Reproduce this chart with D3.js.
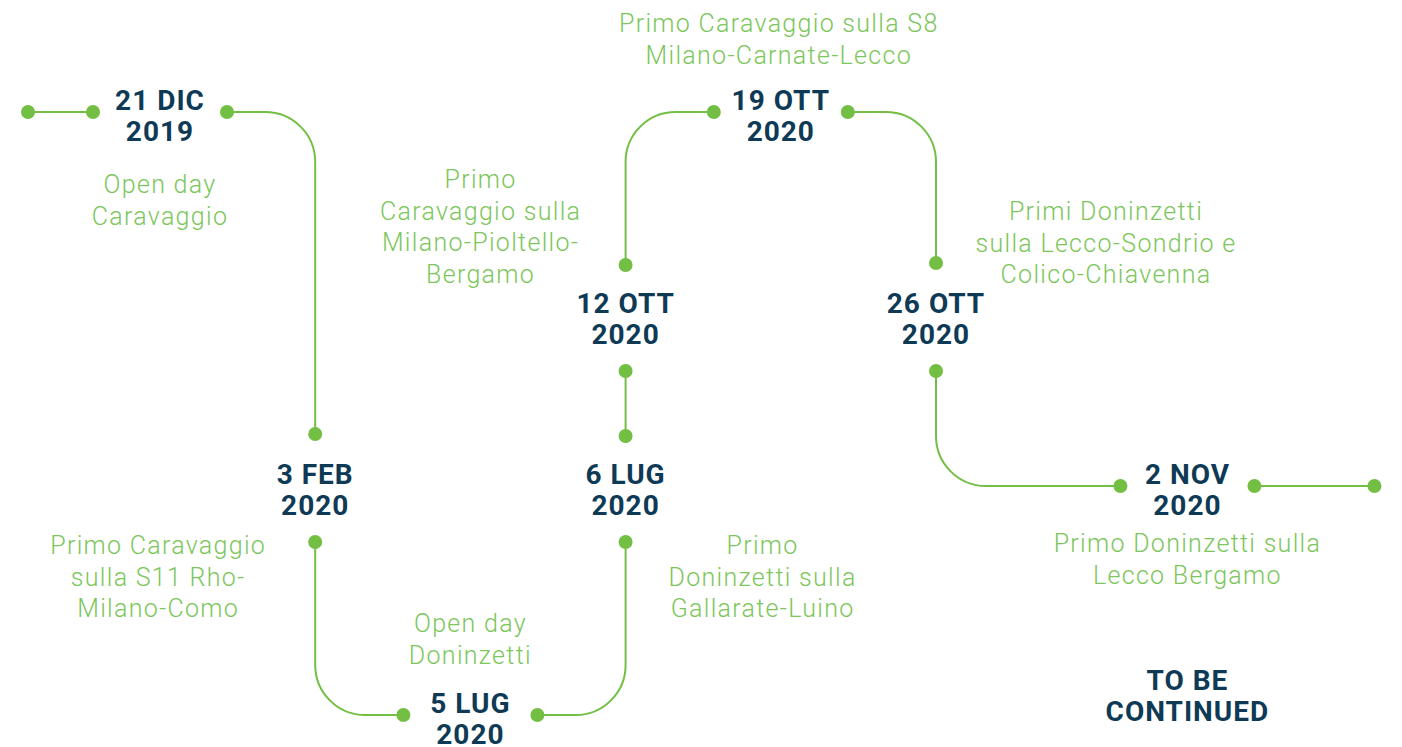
<!DOCTYPE html>
<html>
  <head>
    <meta charset="utf-8">
    <title>timeline</title>
    <script src="https://cdnjs.cloudflare.com/ajax/libs/d3/7.8.5/d3.min.js"></script>
    <style type="text/css">
      body { margin: 0; background: #fff; }
      .date { font-family: Roboto, "DejaVu Sans", sans-serif; font-weight: 700; fill: #0f3a56; letter-spacing: 1px; }
      .note { font-family: Roboto, "DejaVu Sans", sans-serif; font-weight: 300; fill: #7cc65b; letter-spacing: 1.3px; }
    </style>
  </head>
  <body>
    <script>
      // milestones, in order
      var days = ['21 DIC', '3 FEB', '5 LUG', '6 LUG', '12 OTT', '19 OTT', '26 OTT', '2 NOV'];
      var years = ['2019', '2020', '2020', '2020', '2020', '2020', '2020', '2020'];
      var notes = [
        ['Open day', 'Caravaggio'],
        ['Primo Caravaggio', 'sulla S11 Rho-', 'Milano-Como'],
        ['Open day', 'Doninzetti'],
        ['Primo', 'Doninzetti sulla', 'Gallarate-Luino'],
        ['Primo', 'Caravaggio sulla', 'Milano-Pioltello-', 'Bergamo'],
        ['Primo Caravaggio sulla S8', 'Milano-Carnate-Lecco'],
        ['Primi Doninzetti', 'sulla Lecco-Sondrio e', 'Colico-Chiavenna'],
        ['Primo Doninzetti sulla', 'Lecco Bergamo']
      ];
      var endLabel = ['TO BE', 'CONTINUED'];

      // where each milestone sits on the snake (grid slot + level) and which way the path runs
      var slot = [0, 1, 2, 3, 3, 4, 5, 6.62];
      var level = [0, 2, 3, 2, 1, 0, 1, 2];
      var flow = ['right', 'down', 'right', 'up', 'up', 'right', 'down', 'right'];
      // note placement relative to the milestone
      var noteDx = [0, -157, 0, 137, -145, -2, 170, 0];
      var noteDy = [78, 65, -86, 65, -130, -83, -98, 63];

      var w = 1402, h = 747;
      var green = '#72bf44';

      var x = d3.scaleLinear().domain([0, 5]).range([160, 936]);
      var y = d3.scaleOrdinal().domain([0, 1, 2, 3]).range([115, 318, 489, 718]);

      var events = days.map(function(d, i) {
        return { day: d, year: years[i], note: notes[i], cx: x(slot[i]), cy: y(level[i]), flow: flow[i], dx: noteDx[i], dy: noteDy[i] };
      });

      // entry / exit dots
      events.forEach(function(e) {
        if (e.flow == 'right') {
          var ly = e.cy - 3;
          e.entry = [e.cx - 67, ly];
          e.exit = [e.cx + 67, ly];
        } else if (e.flow == 'down') {
          e.entry = [e.cx, e.cy - 55];
          e.exit = [e.cx, e.cy + 53];
        } else {
          e.entry = [e.cx, e.cy + 53];
          e.exit = [e.cx, e.cy - 53];
        }
      });

      var svg = d3.select('body')
                  .append('svg')
                    .attr('width', w)
                    .attr('height', h);

      // connectors with rounded corners
      var r = 50;
      var connector = function(a, b, horizontalFirst) {
        var p = d3.path();
        p.moveTo(a[0], a[1]);
        if (a[0] == b[0] || a[1] == b[1]) {
          p.lineTo(b[0], b[1]);
        } else {
          var c = horizontalFirst ? [b[0], a[1]] : [a[0], b[1]];
          p.arcTo(c[0], c[1], b[0], b[1], r);
          p.lineTo(b[0], b[1]);
        }
        return p.toString();
      };

      var links = [];
      var first = events[0], last = events[events.length - 1];
      var startDot = [first.entry[0] - 65, first.entry[1]];
      var endDot = [last.exit[0] + 120, last.exit[1]];
      links.push(connector(startDot, first.entry, true));
      for (var i = 0; i < events.length - 1; i++) {
        var a = events[i], b = events[i + 1];
        links.push(connector(a.exit, b.entry, a.flow == 'right'));
      }
      links.push(connector(last.exit, endDot, true));

      svg.selectAll('path.link')
         .data(links)
         .enter()
         .append('path')
           .attr('class', 'link')
           .attr('d', function(d) { return d; })
           .attr('fill', 'none')
           .attr('stroke', green)
           .attr('stroke-width', 2);

      var dots = [startDot, endDot];
      events.forEach(function(e) { dots.push(e.entry, e.exit); });

      svg.selectAll('circle')
         .data(dots)
         .enter()
         .append('circle')
           .attr('cx', function(d) { return d[0]; })
           .attr('cy', function(d) { return d[1]; })
           .attr('r', 7)
           .attr('fill', green);

      // date labels
      var dates = svg.selectAll('text.date')
                     .data(events)
                     .enter()
                     .append('text')
                       .attr('class', 'date')
                       .attr('text-anchor', 'middle')
                       .attr('font-size', 28);
      dates.append('tspan')
             .attr('x', function(d) { return d.cx; })
             .attr('y', function(d) { return d.cy - 5; })
             .text(function(d) { return d.day; });
      dates.append('tspan')
             .attr('x', function(d) { return d.cx; })
             .attr('y', function(d) { return d.cy + 26; })
             .text(function(d) { return d.year; });

      // notes
      svg.selectAll('text.note')
         .data(events)
         .enter()
         .append('text')
           .attr('class', 'note')
           .attr('text-anchor', 'middle')
           .attr('font-size', 25)
         .selectAll('tspan')
         .data(function(d) {
           return d.note.map(function(t, k) { return { t: t, x: d.cx + d.dx, y: d.cy + d.dy + k * 31.5 }; });
         })
         .enter()
         .append('tspan')
           .attr('x', function(d) { return d.x; })
           .attr('y', function(d) { return d.y; })
           .text(function(d) { return d.t; });

      // to be continued
      svg.append('text')
           .attr('class', 'date')
           .attr('text-anchor', 'middle')
           .attr('font-size', 28)
         .selectAll('tspan')
         .data(endLabel)
         .enter()
         .append('tspan')
           .attr('x', last.cx)
           .attr('y', function(d, k) { return last.cy + 201 + k * 31; })
           .text(function(d) { return d; });
    </script>
  </body>
</html>
